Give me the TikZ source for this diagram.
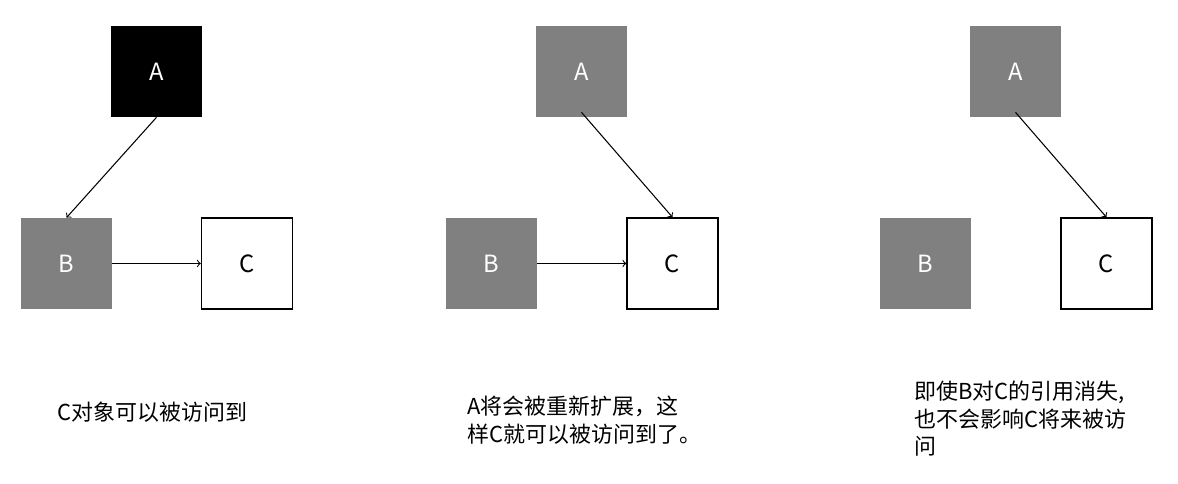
\documentclass[tikz,border=0pt]{standalone}
\usepackage{fontspec}
\setmainfont{Noto Sans CJK SC}
\usepackage{tikz}

\begin{document}
\begin{tikzpicture}[
  obj/.style={minimum size=1.82cm, inner sep=0pt, font=\fontsize{13.5pt}{16pt}\selectfont},
  dead/.style={obj, fill=black, text=white},
  grey/.style={obj, fill=black!50, text=white},
  live/.style={obj, draw=black, line width=0.8pt, fill=white},
  ref/.style={->, line width=0.6pt},
  note/.style={anchor=west, align=left, inner sep=0pt, font=\fontsize{12.5pt}{15.6pt}\selectfont}]
  \useasboundingbox (0,0) rectangle (23.56,9.68);
  % first step
  \node[dead] (A1) at (3.13,8.25) {A};
  \node[grey] (B1) at (1.33,4.41) {B};
  \node[live] (C1) at (4.94,4.41) {C};
  \draw[ref] (A1.south) -- (B1.north);
  \draw[ref] (B1.east) -- (C1.west);
  \node[note] (t1) at (1.14,1.44) {C对象可以被访问到};
  % second step
  \node[grey] (A2) at (11.63,8.25) {A};
  \node[grey] (B2) at (9.83,4.41) {B};
  \node[live] (C2) at (13.45,4.41) {C};
  \draw[ref] ([yshift=0.1cm]A2.south) -- (C2.north);
  \draw[ref] (B2.east) -- (C2.west);
  \node[note] (t2) at (9.34,1.28) {A将会被重新扩展，这\\样C就可以被访问到了。};
  % third step
  \node[grey] (A3) at (20.31,8.25) {A};
  \node[grey] (B3) at (18.51,4.41) {B};
  \node[live] (C3) at (22.13,4.41) {C};
  \draw[ref] ([yshift=0.1cm]A3.south) -- (C3.north);
  \node[note] (t3) at (18.28,1.30) {即使B对C的引用消失,\\也不会影响C将来被访\\问};
\end{tikzpicture}
\end{document}
